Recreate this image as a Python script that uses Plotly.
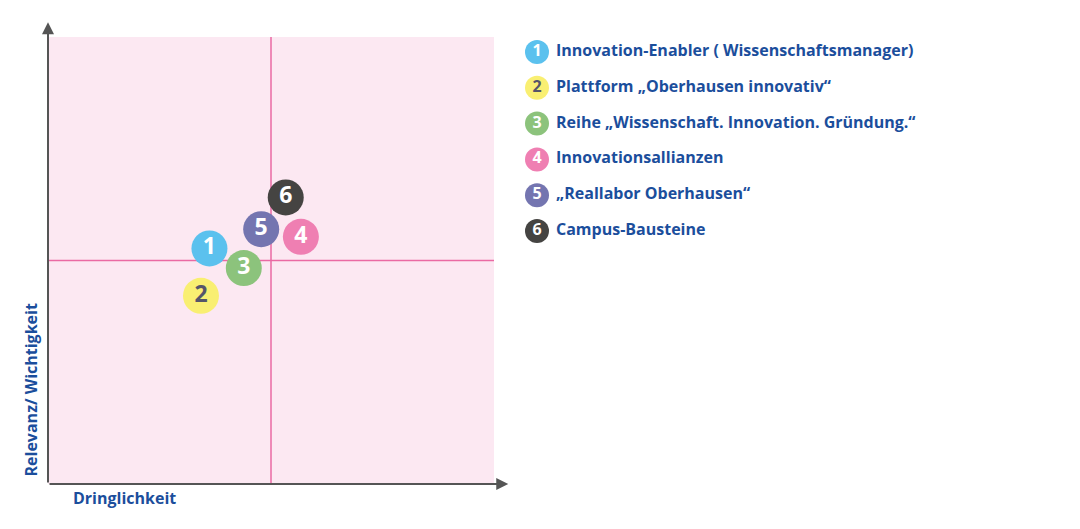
import plotly.graph_objects as go

# ---- data ----
ids = ["1", "2", "3", "4", "5", "6"]
labels = [
    "Innovation-Enabler ( Wissenschaftsmanager)",
    "Plattform \u201eOberhausen innovativ\u201c",
    "Reihe \u201eWissenschaft. Innovation. Gr\u00fcndung.\u201c",
    "Innovationsallianzen",
    "\u201eReallabor Oberhausen\u201c",
    "Campus-Bausteine",
]
dringlichkeit = [3.62, 3.43, 4.39, 5.67, 4.78, 5.33]
relevanz = [5.27, 4.21, 4.83, 5.53, 5.70, 6.41]
colors = ["#5bc1ee", "#f9ef72", "#8cc37c", "#ef7fb2", "#7475b0", "#454442"]
num_colors = ["#ffffff", "#55556a", "#ffffff", "#ffffff", "#ffffff", "#ffffff"]

W, H = 1080, 529
OFF = 8  # default page body margin
FONT = "Open Sans"
BLUE = "#1b4e9c"
GRAY = "#555555"

# plot area in page pixels, converted to figure pixels
L, R, T, B = 48 - OFF, 494 - OFF, 37 - OFF, 484 - OFF

fig = go.Figure()

# main bubbles
fig.add_trace(go.Scatter(
    x=dringlichkeit, y=relevanz, mode="markers+text",
    marker=dict(size=36, color=colors, line=dict(width=0)),
    text=ids, textposition="middle center",
    textfont=dict(family=FONT, size=23, color=num_colors, weight="bold"),
    xaxis="x", yaxis="y", hoverinfo="skip", showlegend=False,
    cliponaxis=False,
))

# legend (pixel-coordinate overlay axes)
leg_x = [537 - OFF] * len(ids)
leg_y = [52 - OFF + 35.8 * i for i in range(len(ids))]
fig.add_trace(go.Scatter(
    x=leg_x, y=leg_y, mode="markers+text",
    marker=dict(size=24, color=colors, line=dict(width=0)),
    text=ids, textposition="middle center",
    textfont=dict(family=FONT, size=16, color=num_colors, weight="bold"),
    xaxis="x2", yaxis="y2", hoverinfo="skip", showlegend=False,
    cliponaxis=False,
))
fig.add_trace(go.Scatter(
    x=[556 - OFF] * len(ids), y=leg_y, mode="text",
    text=labels, textposition="middle right",
    textfont=dict(family=FONT, size=16, color=BLUE, weight="bold"),
    xaxis="x2", yaxis="y2", hoverinfo="skip", showlegend=False,
    cliponaxis=False,
))

shapes = [
    dict(type="rect", xref="x", yref="y", x0=0, x1=10, y0=0, y1=10,
         fillcolor="#fce8f2", line=dict(width=0), layer="below"),
    dict(type="line", xref="x", yref="y", x0=5, x1=5, y0=0, y1=10,
         line=dict(color="#ea6aa3", width=1.5), layer="below"),
    dict(type="line", xref="x", yref="y", x0=0, x1=10, y0=5, y1=5,
         line=dict(color="#ea6aa3", width=1.5), layer="below"),
]

annotations = [
    dict(x=0, y=10.33, ax=0, ay=0, xref="x", yref="y", axref="x", ayref="y",
         showarrow=True, arrowhead=2, arrowsize=1.2, arrowwidth=2,
         arrowcolor=GRAY, text=""),
    dict(x=10.32, y=0, ax=0, ay=0, xref="x", yref="y", axref="x", ayref="y",
         showarrow=True, arrowhead=2, arrowsize=1.2, arrowwidth=2,
         arrowcolor=GRAY, text=""),
    dict(x=(71 - OFF) / W, y=1 - (498 - OFF) / H, xref="paper", yref="paper",
         text="Dringlichkeit", showarrow=False, xanchor="left", yanchor="middle",
         font=dict(family=FONT, size=16, color=BLUE, weight="bold")),
    dict(x=(30 - OFF) / W, y=1 - (479 - OFF) / H, xref="paper", yref="paper",
         text="Relevanz/ Wichtigkeit", showarrow=False, textangle=-90,
         xanchor="center", yanchor="bottom",
         font=dict(family=FONT, size=16, color=BLUE, weight="bold")),
]

fig.update_layout(
    width=W, height=H,
    margin=dict(l=0, r=0, t=0, b=0),
    paper_bgcolor="white", plot_bgcolor="rgba(0,0,0,0)",
    xaxis=dict(domain=[L / W, R / W], range=[0, 10], visible=False, fixedrange=True),
    yaxis=dict(domain=[1 - B / H, 1 - T / H], range=[0, 10], visible=False, fixedrange=True),
    xaxis2=dict(domain=[0, 1], range=[0, W], visible=False, anchor="y2", fixedrange=True),
    yaxis2=dict(domain=[0, 1], range=[H, 0], visible=False, anchor="x2", fixedrange=True),
    shapes=shapes, annotations=annotations,
    showlegend=False,
)

fig.write_html("out.html")
